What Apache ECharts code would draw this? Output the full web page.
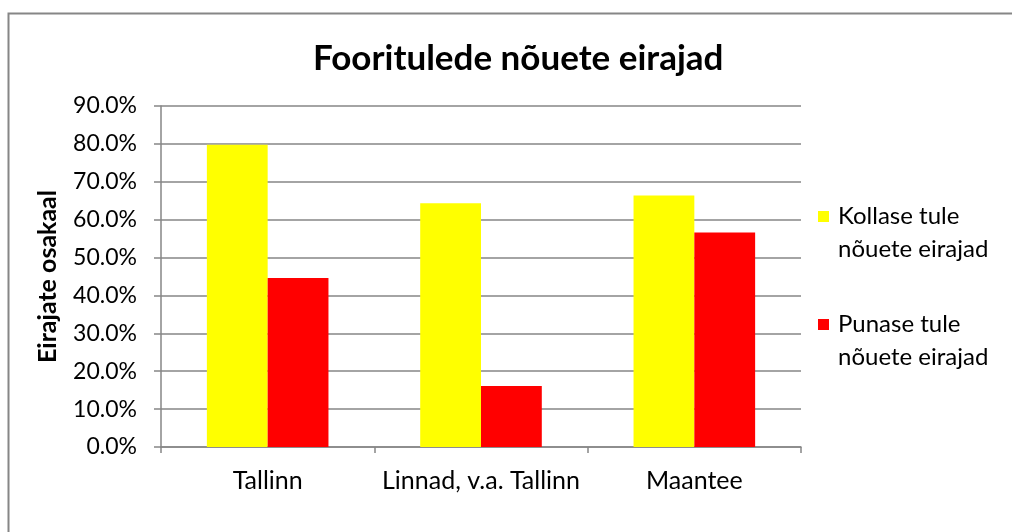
<!DOCTYPE html>
<html lang="et">
<head>
<meta charset="UTF-8" />
<title>Fooritulede nõuete eirajad</title>
<script src="https://cdn.jsdelivr.net/npm/echarts@6/dist/echarts.min.js"></script>
<style>
  html, body { margin: 0; padding: 0; background: #fff; }
  #main { width: 1012px; height: 532px; }
</style>
</head>
<body>
<div id="main"></div>
<script type="text/javascript">
// andmed
var categories = ['Tallinn', 'Linnad, v.a. Tallinn', 'Maantee'];
var kollane = [79.8, 64.3, 66.4];
var punane = [44.6, 16.1, 56.6];
var seriesNames = ['Kollase tule\nnõuete eirajad', 'Punase tule\nnõuete eirajad'];

var font = 'Lato, "Open Sans", sans-serif';
var gray = '#868686';

var myChart = echarts.init(document.getElementById('main'));
var option = {
    backgroundColor: '#fff',
    animation: false,
    textStyle: { fontFamily: font, color: '#000' },
    title: {
        text: 'Fooritulede nõuete eirajad',
        left: 308,
        top: 36,
        textStyle: { fontFamily: font, fontSize: 35, fontWeight: 'bold', color: '#000' }
    },
    graphic: [{
        type: 'rect',
        shape: { x: 8.5, y: 13.5, width: 1010, height: 530 },
        style: { fill: null, stroke: gray, lineWidth: 2 },
        silent: true
    }],
    legend: {
        orient: 'vertical',
        left: 813,
        top: 162,
        itemWidth: 11,
        itemHeight: 11,
        itemGap: 9,
        icon: 'rect',
        // tühi esimene rida, et ruut jääks esimese tekstirea kõrvale
        formatter: function (name) { return ' \n' + name; },
        textStyle: {
            fontFamily: font, fontSize: 24, color: '#000', lineHeight: 33,
            padding: [0, 0, 0, 4]
        },
        data: seriesNames
    },
    grid: { left: 161, right: 211, top: 106, bottom: 85 },
    xAxis: {
        type: 'category',
        data: categories,
        axisLine: { lineStyle: { color: gray, width: 1.5 } },
        axisTick: { show: true, length: 6, lineStyle: { color: gray, width: 1.5 } },
        axisLabel: { fontFamily: font, fontSize: 25, color: '#000', margin: 21, interval: 0 }
    },
    yAxis: {
        type: 'value',
        min: 0,
        max: 90,
        interval: 10,
        name: 'Eirajate osakaal',
        nameLocation: 'middle',
        nameGap: 101,
        nameRotate: 90,
        nameTextStyle: { fontFamily: font, fontSize: 25, fontWeight: 'bold', color: '#000' },
        axisLine: { show: true, lineStyle: { color: gray, width: 1.5 } },
        axisTick: { show: true, inside: false, length: 7, lineStyle: { color: gray, width: 1.5 } },
        axisLabel: {
            fontFamily: font, fontSize: 23, color: '#000', margin: 24,
            formatter: function (v) { return v.toFixed(1) + '%'; }
        },
        splitLine: { lineStyle: { color: gray, width: 1.5 } }
    },
    series: [
        {
            name: seriesNames[0],
            type: 'bar',
            data: kollane,
            barGap: '0%',
            barCategoryGap: '43%',
            itemStyle: { color: '#ffff00' }
        },
        {
            name: seriesNames[1],
            type: 'bar',
            data: punane,
            itemStyle: { color: '#ff0000' }
        }
    ]
};
myChart.setOption(option);
</script>
</body>
</html>
